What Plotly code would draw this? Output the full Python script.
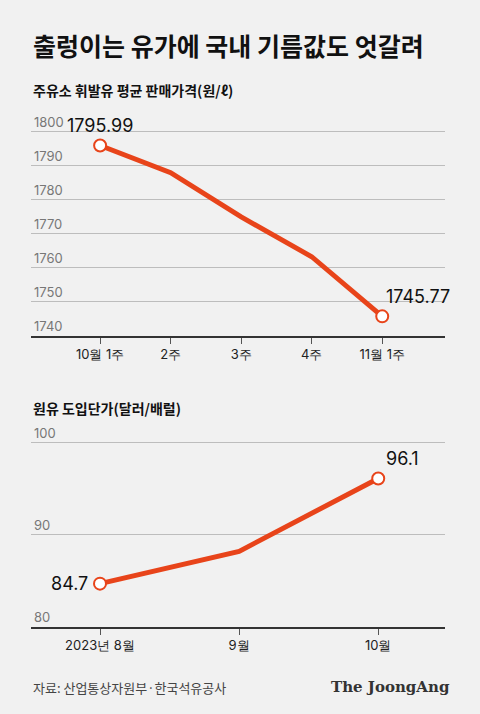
import plotly.graph_objects as go

W, H = 480, 714
weeks = ["10월 1주", "2주", "3주", "4주", "11월 1주"]
diesel = [1795.99, 1788.0, 1775.0, 1763.3, 1745.77]
months = ["2023년 8월", "9월", "10월"]
crude = [84.7, 88.2, 96.1]
top_ticks = [1740, 1750, 1760, 1770, 1780, 1790, 1800]
bot_ticks = [80, 90, 100]

ORANGE = "#e8441a"
BG = "#f1f1f1"
def py(p): return 1 - p / H
def px(p): return p / W

fig = go.Figure()
fig.add_trace(go.Scatter(x=list(range(len(weeks))), y=diesel, mode="lines", line=dict(color=ORANGE, width=5), xaxis="x", yaxis="y"))
fig.add_trace(go.Scatter(x=[0, len(weeks)-1], y=[diesel[0], diesel[-1]], mode="markers", marker=dict(size=12, color="white", line=dict(color=ORANGE, width=2)), xaxis="x", yaxis="y"))
fig.add_trace(go.Scatter(x=list(range(len(months))), y=crude, mode="lines", line=dict(color=ORANGE, width=5), xaxis="x2", yaxis="y2"))
fig.add_trace(go.Scatter(x=[0, len(months)-1], y=[crude[0], crude[-1]], mode="markers", marker=dict(size=12, color="white", line=dict(color=ORANGE, width=2)), xaxis="x2", yaxis="y2"))

ax = dict(showgrid=False, zeroline=False, showline=True, linecolor="#333", linewidth=1.5,
          ticks="outside", ticklen=6, tickcolor="#555", tickfont=dict(size=13, color="#222", family="Inter"), fixedrange=True)
ay = dict(showgrid=True, gridcolor="#bdbdbd", gridwidth=1, zeroline=False, ticks="", ticklabelposition="inside top",
          tickfont=dict(size=13, color="#777", family="Inter"), fixedrange=True)

xd = [px(31), px(445)]
fig.update_layout(
    width=W, height=H, paper_bgcolor=BG, plot_bgcolor=BG, showlegend=False,
    margin=dict(l=0, r=0, t=0, b=0),
    font=dict(family="Noto Sans CJK KR"),
    xaxis=dict(ax, domain=xd, range=[-0.98, 4.89], tickvals=list(range(5)), ticktext=weeks, anchor="y"),
    yaxis=dict(ay, domain=[py(336), py(108)], range=[1740, 1807], tickvals=top_ticks, anchor="x"),
    xaxis2=dict(ax, domain=xd, range=[-0.496, 2.48], tickvals=list(range(3)), ticktext=months, anchor="y2"),
    yaxis2=dict(ay, domain=[py(627), py(424)], range=[80, 102], tickvals=bot_ticks, anchor="x2"),
)

ann = [
    dict(text="<b>출렁이는 유가에 국내 기름값도 엇갈려</b>", x=px(31), y=py(45), font=dict(size=25, color="#111")),
    dict(text="<b>주유소 휘발유 평균 판매가격(원/ℓ)</b>", x=px(31), y=py(90), font=dict(size=14, color="#111")),
    dict(text="<b>원유 도입단가(달러/배럴)</b>", x=px(31), y=py(408), font=dict(size=14, color="#111")),
    dict(text="자료: 산업통상자원부·한국석유공사", x=px(31), y=py(687), font=dict(size=13, color="#444")),
]
for a in ann:
    a.update(xref="paper", yref="paper", xanchor="left", yanchor="middle", showarrow=False)
    fig.add_annotation(**a)
fig.add_annotation(text="<b>The JoongAng</b>", xref="paper", yref="paper", x=px(452), y=py(687), xanchor="right", yanchor="middle",
                   showarrow=False, font=dict(family="DejaVu Serif", size=15, color="#333"))
lab = dict(showarrow=False, font=dict(size=18, color="#111", family="Inter"))
fig.add_annotation(x=0, y=diesel[0], xref="x", yref="y", text=f"{diesel[0]:.2f}", yshift=20, **lab)
fig.add_annotation(x=4, y=diesel[-1], xref="x", yref="y", text=f"{diesel[-1]:.2f}", xshift=2, yshift=20, xanchor="left", **lab)
fig.add_annotation(x=0, y=crude[0], xref="x2", yref="y2", text=f"{crude[0]}", xshift=-10, xanchor="right", **lab)
fig.add_annotation(x=2, y=crude[-1], xref="x2", yref="y2", text=f"{crude[-1]}", xshift=6, yshift=20, xanchor="left", **lab)

fig.write_html("out.html", config={"displayModeBar": False},
               post_script="document.body.style.margin='0';document.body.style.background='#f1f1f1';")
